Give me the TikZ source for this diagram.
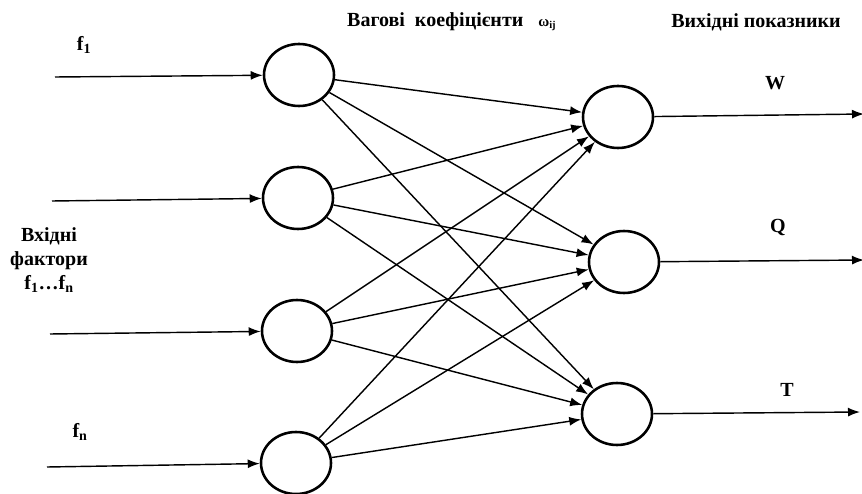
\documentclass[tikz,border=0pt]{standalone}
\usepackage{fontspec}
\setmainfont{Liberation Serif}
\usetikzlibrary{arrows.meta,shapes.geometric}

\tikzset{
  neuron/.style={draw, ellipse, line width=0.9mm, minimum width=70pt, minimum height=62pt, inner sep=0pt},
  link/.style={line width=0.5mm, -{Latex[length=12pt,width=9pt]}},
  lbl/.style={font=\fontsize{20}{24}\selectfont\bfseries, inner sep=0pt}
}

\begin{document}
\begin{tikzpicture}[x=1pt, y=-1pt]
		%%%%% START %%%%%
		\useasboundingbox (0, 0) rectangle (862, 494);
		
		\node[neuron] (in1) at (299, 75) {};
		\node[neuron] (in2) at (298, 198) {};
		\node[neuron] (in3) at (297, 331) {};
		\node[neuron] (in4) at (296, 463) {};
		
		\node[neuron] (out1) at (618, 117) {};
		\node[neuron] (out2) at (624, 262) {};
		\node[neuron] (out3) at (617, 414) {};
		
		\coordinate (x1) at (55, 77);
		\coordinate (x2) at (52, 201);
		\coordinate (x3) at (50, 334);
		\coordinate (x4) at (47, 467);
		
		\coordinate (y1) at (864, 114);
		\coordinate (y2) at (864, 260);
		\coordinate (y3) at (860, 412);
		
		\draw[link] (x1) -- (in1);
		\draw[link] (x2) -- (in2);
		\draw[link] (x3) -- (in3);
		\draw[link] (x4) -- (in4);
		
		\draw[link] (in1) -- (out1);
		\draw[link] (in1) -- (out2);
		\draw[link] (in1) -- (out3);
		\draw[link] (in2) -- (out1);
		\draw[link] (in2) -- (out2);
		\draw[link] (in2) -- (out3);
		\draw[link] (in3) -- (out1);
		\draw[link] (in3) -- (out2);
		\draw[link] (in3) -- (out3);
		\draw[link] (in4) -- (out1);
		\draw[link] (in4) -- (out2);
		\draw[link] (in4) -- (out3);
		
		\draw[link] (out1) -- (y1);
		\draw[link] (out2) -- (y2);
		\draw[link] (out3) -- (y3);
		
		\node[lbl] (f1) at (84, 45) {f\textsubscript{1}};
		\node[lbl] (fn) at (80, 432) {f\textsubscript{n}};
		\node[lbl, align=center] (inputs) at (49, 260) {Вхідні\\фактори\\f\textsubscript{1}\ldots f\textsubscript{n}};
		
		\node[lbl, anchor=west] (weights) at (347, 22) {Вагові\ \ коефіцієнти\ \ \ {\fontsize{15}{15}\selectfont ω\textsubscript{ij}}};
		\node[lbl] (outputs) at (756, 22) {Вихідні показники};
		
		\node[lbl] (w) at (775, 83) {W};
		\node[lbl] (q) at (778, 228) {Q};
		\node[lbl] (t) at (787, 390) {T};
		%%%%% END %%%%%
	\end{tikzpicture}
\end{document}
